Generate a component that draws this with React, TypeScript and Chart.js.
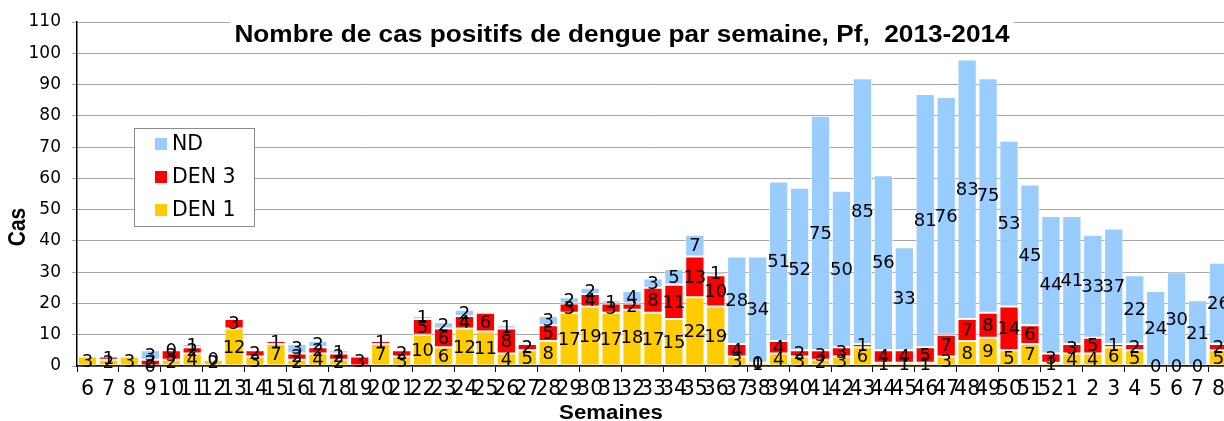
import React, { useEffect, useRef } from 'react';
import { Chart, registerables } from 'chart.js';

Chart.register(...registerables);

const weeks = [
  '6', '7', '8', '9', '10', '11', '12', '13', '14', '15', '16', '17', '18', '19', '20', '21',
  '22', '23', '24', '25', '26', '27', '28', '29', '30', '31', '32', '33', '34', '35', '36', '37',
  '38', '39', '40', '41', '42', '43', '44', '45', '46', '47', '48', '49', '50', '51', '52',
  '1', '2', '3', '4', '5', '6', '7', '8',
];

const den1: (number | null)[] = [
  3, 2, 3, 0, 2, 4, 2, 12, 3, 7, 2, 4, 2, null, 7, 3,
  10, 6, 12, 11, 4, 5, 8, 17, 19, 17, 18, 17, 15, 22, 19, 3,
  1, 4, 3, 2, 3, 6, 1, 1, 1, 3, 8, 9, 5, 7, 1,
  4, 4, 6, 5, 0, 0, 0, 5,
];

const den3: (number | null)[] = [
  null, 1, null, 2, 3, 2, 0, 3, 2, 1, 2, 2, 2, 3, 1, 2,
  5, 6, 4, 6, 8, 2, 5, 3, 4, 3, 2, 8, 11, 13, 10, 4,
  0, 4, 2, 3, 3, 1, 4, 4, 5, 7, 7, 8, 14, 6, 3,
  3, 5, 1, 2, null, null, null, 2,
];

const nd: (number | null)[] = [
  null, null, null, 3, 0, 1, null, null, null, null, 3, 2, 1, null, null, null,
  1, 2, 2, null, 1, null, 3, 2, 2, 1, 4, 3, 5, 7, 1, 28,
  34, 51, 52, 75, 50, 85, 56, 33, 81, 76, 83, 75, 53, 45, 44,
  41, 33, 37, 22, 24, 30, 21, 26,
];

const yTicks = [0, 10, 20, 30, 40, 50, 60, 70, 80, 90, 100, 110];

const TITLE = 'Nombre de cas positifs de dengue par semaine, Pf,  2013-2014';
const Y_TITLE = 'Cas';
const X_TITLE = 'Semaines';

const BOLD_FONT = '"Liberation Sans", Arial, sans-serif';
const FONT = '"DejaVu Sans", sans-serif';
const STRETCH = 1.14;

const labelsPlugin = {
  id: 'segLabels',
  afterDatasetsDraw(chart: any) {
    const ctx = chart.ctx;
    ctx.save();
    ctx.font = `18px ${FONT}`;
    ctx.fillStyle = '#000';
    ctx.textAlign = 'center';
    ctx.textBaseline = 'middle';
    chart.data.datasets.forEach((ds: any, i: number) => {
      const meta = chart.getDatasetMeta(i);
      meta.data.forEach((el: any, j: number) => {
        const v = ds.data[j];
        if (v === null || v === undefined) return;
        const y = (el.y + el.base) / 2;
        ctx.fillText(String(v), el.x, y + 1);
      });
    });
    ctx.restore();
  },
};

function stretchedText(ctx: any, text: string, x: number, y: number) {
  ctx.save();
  ctx.translate(x, y);
  ctx.scale(STRETCH, 1);
  ctx.fillText(text, 0, 0);
  ctx.restore();
}

const decorPlugin = {
  id: 'decor',
  afterDraw(chart: any) {
    const ctx = chart.ctx;
    ctx.save();
    // Title
    ctx.fillStyle = '#fff';
    ctx.fillRect(230, 12, 784, 34);
    ctx.font = `bold 23px ${BOLD_FONT}`;
    ctx.fillStyle = '#000';
    ctx.textAlign = 'center';
    ctx.textBaseline = 'alphabetic';
    stretchedText(ctx, TITLE, 622, 42);

    // Axis titles
    ctx.font = `bold 19.5px ${BOLD_FONT}`;
    stretchedText(ctx, X_TITLE, 611, 419);
    ctx.save();
    ctx.translate(18.5, 227);
    ctx.scale(STRETCH, 1);
    ctx.rotate(-Math.PI / 2);
    ctx.font = `bold 21px ${BOLD_FONT}`;
    ctx.textBaseline = 'middle';
    ctx.fillText(Y_TITLE, 0, 0);
    ctx.restore();

    // Legend
    const lx = 134.5, ly = 128.5, lw = 120, lh = 98;
    ctx.fillStyle = '#fff';
    ctx.fillRect(lx, ly, lw, lh);
    ctx.strokeStyle = '#8c8c8c';
    ctx.lineWidth = 1;
    ctx.strokeRect(lx, ly, lw, lh);
    const order = [2, 1, 0];
    const rows = [144, 177, 210];
    ctx.font = `20.5px ${FONT}`;
    ctx.textAlign = 'left';
    ctx.textBaseline = 'middle';
    order.forEach((di, k) => {
      const ds = chart.data.datasets[di];
      ctx.fillStyle = ds.backgroundColor;
      ctx.fillRect(155, rows[k] - 6, 12, 12);
      ctx.fillStyle = '#000';
      ctx.fillText(ds.label, 172, rows[k] + 1);
    });
    ctx.restore();
  },
};

export default function App() {
  const ref = useRef<HTMLCanvasElement | null>(null);

  useEffect(() => {
    document.body.style.margin = '0';
    const canvas = ref.current;
    if (!canvas) return;
    const chart = new Chart(canvas, {
      type: 'bar',
      data: {
        labels: weeks,
        datasets: [
          { label: 'DEN 1', data: den1, backgroundColor: '#FFCC00' },
          { label: 'DEN 3', data: den3, backgroundColor: '#FF0000' },
          { label: 'ND', data: nd, backgroundColor: '#99CCFF' },
        ],
      },
      options: {
        animation: false,
        responsive: false,
        devicePixelRatio: 1,
        layout: { padding: { top: 22, left: 0, right: 0, bottom: 0 } },
        datasets: {
          bar: {
            barPercentage: 0.92,
            categoryPercentage: 1,
            borderWidth: 1,
            borderColor: 'rgba(255,255,255,0.55)',
            borderSkipped: false,
          },
        },
        plugins: {
          legend: { display: false },
          title: { display: false },
          tooltip: { enabled: false },
        },
        scales: {
          x: {
            stacked: true,
            afterFit: (s: any) => { s.height = 55; },
            grid: {
              drawOnChartArea: false,
              tickLength: 6,
              color: (c: any) => (c.index % 2 === 0 ? '#000' : 'rgba(0,0,0,0)'),
            },
            border: { display: true, color: '#000', width: 1.5 },
            ticks: {
              autoSkip: false,
              maxRotation: 0,
              minRotation: 0,
              padding: 5,
              color: '#000',
              font: { family: FONT, size: 20.5 },
            },
          },
          y: {
            stacked: true,
            min: 0,
            max: 110,
            afterFit: (s: any) => { s.width = 77; },
            afterBuildTicks: (s: any) => { s.ticks = yTicks.map((v) => ({ value: v })); },
            grid: { color: '#a6a6a6', lineWidth: 1, tickLength: 5 },
            border: { display: true, color: '#000', width: 1.5 },
            ticks: {
              padding: 11,
              color: '#000',
              font: { family: FONT, size: 17 },
            },
          },
        },
      },
      plugins: [labelsPlugin, decorPlugin],
    });
    return () => chart.destroy();
  }, []);

  return (
    <div
      style={{
        position: 'fixed',
        left: 0,
        top: 0,
        width: 1224,
        height: 421,
        overflow: 'hidden',
        background: '#fff',
      }}
    >
      <canvas ref={ref} width={1230} height={421} style={{ width: 1230, height: 421, display: 'block' }} />
    </div>
  );
}
